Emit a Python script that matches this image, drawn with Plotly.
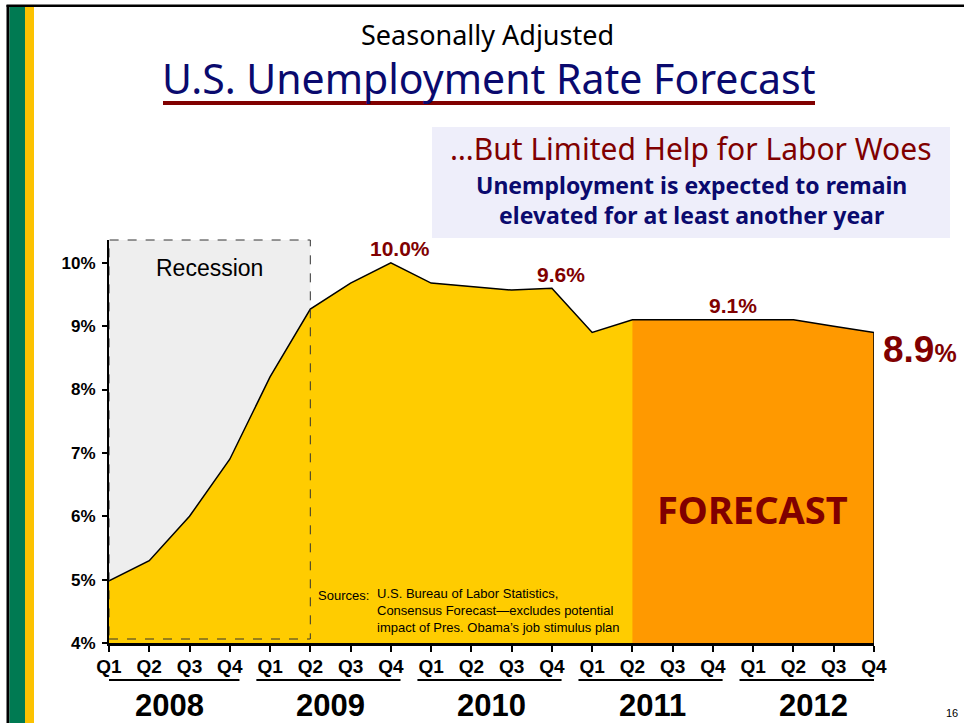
import plotly.graph_objects as go

# Quarterly unemployment rate (%), Q1 2008 – Q4 2012
quarters = ["Q1", "Q2", "Q3", "Q4"] * 5
years = ["2008", "2009", "2010", "2011", "2012"]
rate = [4.98, 5.3, 6.0, 6.9,
        8.2, 9.27, 9.68, 10.0,
        9.68, 9.63, 9.57, 9.6,
        8.9, 9.1, 9.1, 9.1,
        9.1, 9.1, 9.0, 8.9]
forecast_start = 13          # Q2 2011 onwards is forecast
recession = (0, 5)           # Q1 2008 – Q2 2009
labeled = [7, 11, 15]        # points with value labels above the line

x = list(range(len(rate)))

W, H = 964, 723
L, R, T, B = 109, 90, 240, 80
PW, PH = W - L - R, H - T - B


def px(xp):
    return (xp - L) / PW


def py(yp):
    return (H - B - yp) / PH


DARKRED = "#800000"
NAVY = "#0A0A6E"
TAHOMA = "Noto Sans, DejaVu Sans, sans-serif"
ARIAL = "Liberation Sans, Arial, sans-serif"

fig = go.Figure()

# actual + forecast area (yellow)
fig.add_trace(go.Scatter(x=x, y=rate, mode="none", fill="tozeroy",
                         fillcolor="#FFCC00", hoverinfo="skip"))
# forecast area (orange)
fig.add_trace(go.Scatter(x=x[forecast_start:], y=rate[forecast_start:], mode="none",
                         fill="tozeroy", fillcolor="#FF9900", hoverinfo="skip"))
# outline along the top and down the right edge
y_min = 4
fig.add_trace(go.Scatter(x=x + [x[-1]], y=rate + [y_min], mode="lines",
                         line=dict(color="black", width=1.5), hoverinfo="skip"))

shapes = []
# recession shading + dashed frame
shapes.append(dict(type="rect", xref="x", yref="paper", x0=recession[0], x1=recession[1],
                   y0=py(639), y1=1, fillcolor="#EEEEEE", line=dict(width=0), layer="below"))
shapes.append(dict(type="rect", xref="x", yref="paper", x0=recession[0], x1=recession[1],
                   y0=py(639), y1=1, fillcolor="rgba(0,0,0,0)",
                   line=dict(color="#333333", width=1, dash="dash"), layer="above"))

# underline beneath each year's quarter labels
for k in range(len(years)):
    shapes.append(dict(type="line", xref="x", yref="paper", x0=4 * k - 0.34, x1=4 * k + 3.24,
                       y0=py(680), y1=py(680), line=dict(color="black", width=2)))

# callout box
shapes.append(dict(type="rect", xref="paper", yref="paper", x0=px(432), x1=px(950),
                   y0=py(238), y1=py(127), fillcolor="#EEEEFA", line=dict(width=0), layer="below"))
# title underline
shapes.append(dict(type="line", xref="paper", yref="paper", x0=px(163), x1=px(815),
                   y0=py(103), y1=py(103), line=dict(color=DARKRED, width=4)))
# slide border strips
shapes.append(dict(type="rect", xref="paper", yref="paper", x0=px(6.5), x1=px(9.5),
                   y0=py(723), y1=py(5), fillcolor="black", line=dict(width=0)))
shapes.append(dict(type="rect", xref="paper", yref="paper", x0=px(9.5), x1=px(25),
                   y0=py(723), y1=py(7), fillcolor="#007A52", line=dict(width=0)))
shapes.append(dict(type="rect", xref="paper", yref="paper", x0=px(25), x1=px(34),
                   y0=py(723), y1=py(7), fillcolor="#FCC200", line=dict(width=0)))
shapes.append(dict(type="rect", xref="paper", yref="paper", x0=px(6.5), x1=px(964),
                   y0=py(7), y1=py(4.5), fillcolor="black", line=dict(width=0)))

ann = []
# year labels
for k, yr in enumerate(years):
    ann.append(dict(x=4 * k + 1.5, y=py(705), xref="x", yref="paper", text=yr, showarrow=False,
                    font=dict(family=ARIAL, size=31, color="black", weight="bold"),
                    xanchor="center", yanchor="middle"))

# value labels
for i in labeled:
    xi = i + 0.5 if i == 15 else i
    ann.append(dict(x=xi, y=rate[i], xref="x", yref="y", text=f"{rate[i]:.1f}%",
                    showarrow=False, xshift=9 if i != 15 else 0, yshift=14,
                    font=dict(family=ARIAL, size=21, color=DARKRED, weight="bold"),
                    xanchor="center", yanchor="middle"))
ann.append(dict(x=x[-1], y=rate[-1], xref="x", yref="y",
                text=f"{rate[-1]:.1f}<span style='font-size:25px'>%</span>",
                showarrow=False, xshift=7, yshift=-17,
                font=dict(family=ARIAL, size=37, color=DARKRED, weight="bold"),
                xanchor="left", yanchor="middle"))

ann.append(dict(x=2.5, y=py(268), xref="x", yref="paper", text="Recession", showarrow=False,
                font=dict(family=ARIAL, size=23, color="black"), xanchor="center", yanchor="middle"))
ann.append(dict(x=px(752), y=py(509), xref="paper", yref="paper", text="FORECAST", showarrow=False,
                font=dict(family=TAHOMA, size=38, color=DARKRED, weight="bold"),
                xanchor="center", yanchor="middle"))

# sources note
ann.append(dict(x=px(316), y=py(595), xref="paper", yref="paper", text="Sources:", showarrow=False,
                font=dict(family=ARIAL, size=13, color="black"), xanchor="left", yanchor="middle"))
ann.append(dict(x=px(375), y=py(610.5), xref="paper", yref="paper",
                text="U.S. Bureau of Labor Statistics,<br>Consensus Forecast\u2014excludes potential"
                     "<br>impact of Pres. Obama\u2019s job stimulus plan",
                showarrow=False, align="left",
                font=dict(family=ARIAL, size=13, color="black"), xanchor="left", yanchor="middle"))

# headings
ann.append(dict(x=px(487), y=py(34), xref="paper", yref="paper", text="Seasonally Adjusted",
                showarrow=False, font=dict(family=TAHOMA, size=27, color="black"),
                xanchor="center", yanchor="middle"))
ann.append(dict(x=px(489), y=py(78), xref="paper", yref="paper", text="U.S. Unemployment Rate Forecast",
                showarrow=False, font=dict(family=TAHOMA, size=41, color=NAVY),
                xanchor="center", yanchor="middle"))
ann.append(dict(x=px(691), y=py(148), xref="paper", yref="paper",
                text="\u2026But Limited Help for Labor Woes",
                showarrow=False, font=dict(family=TAHOMA, size=30, color=DARKRED),
                xanchor="center", yanchor="middle"))
ann.append(dict(x=px(691), y=py(200), xref="paper", yref="paper",
                text="Unemployment is expected to remain<br>elevated for at least another year",
                showarrow=False, font=dict(family=TAHOMA, size=23, color=NAVY, weight="bold"),
                xanchor="center", yanchor="middle"))
ann.append(dict(x=px(952), y=py(713), xref="paper", yref="paper", text="16",
                showarrow=False, font=dict(family=ARIAL, size=11, color="black"),
                xanchor="center", yanchor="middle"))

fig.update_layout(
    width=W, height=H,
    margin=dict(l=L, r=R, t=T, b=B, pad=0),
    paper_bgcolor="white", plot_bgcolor="white",
    showlegend=False,
    shapes=shapes,
    annotations=ann,
    xaxis=dict(range=[0, len(rate) - 1], tickvals=x, ticktext=quarters,
               showgrid=False, zeroline=False, showline=True, linecolor="black", linewidth=2.5,
               ticks="outside", ticklen=6, tickcolor="black", tickwidth=1.5, ticklabelstandoff=-2,
               tickfont=dict(family=ARIAL, size=19, color="black", weight="bold")),
    yaxis=dict(range=[y_min, 10.36], tickvals=list(range(4, 11)),
               ticktext=[f"{v}%" for v in range(4, 11)],
               showgrid=False, zeroline=False, showline=True, linecolor="black", linewidth=2,
               ticks="outside", ticklen=5, tickcolor="black", tickwidth=1.5, ticklabelstandoff=3,
               tickfont=dict(family=ARIAL, size=17, color="black", weight="bold")),
)

fig.write_html("out.html")
